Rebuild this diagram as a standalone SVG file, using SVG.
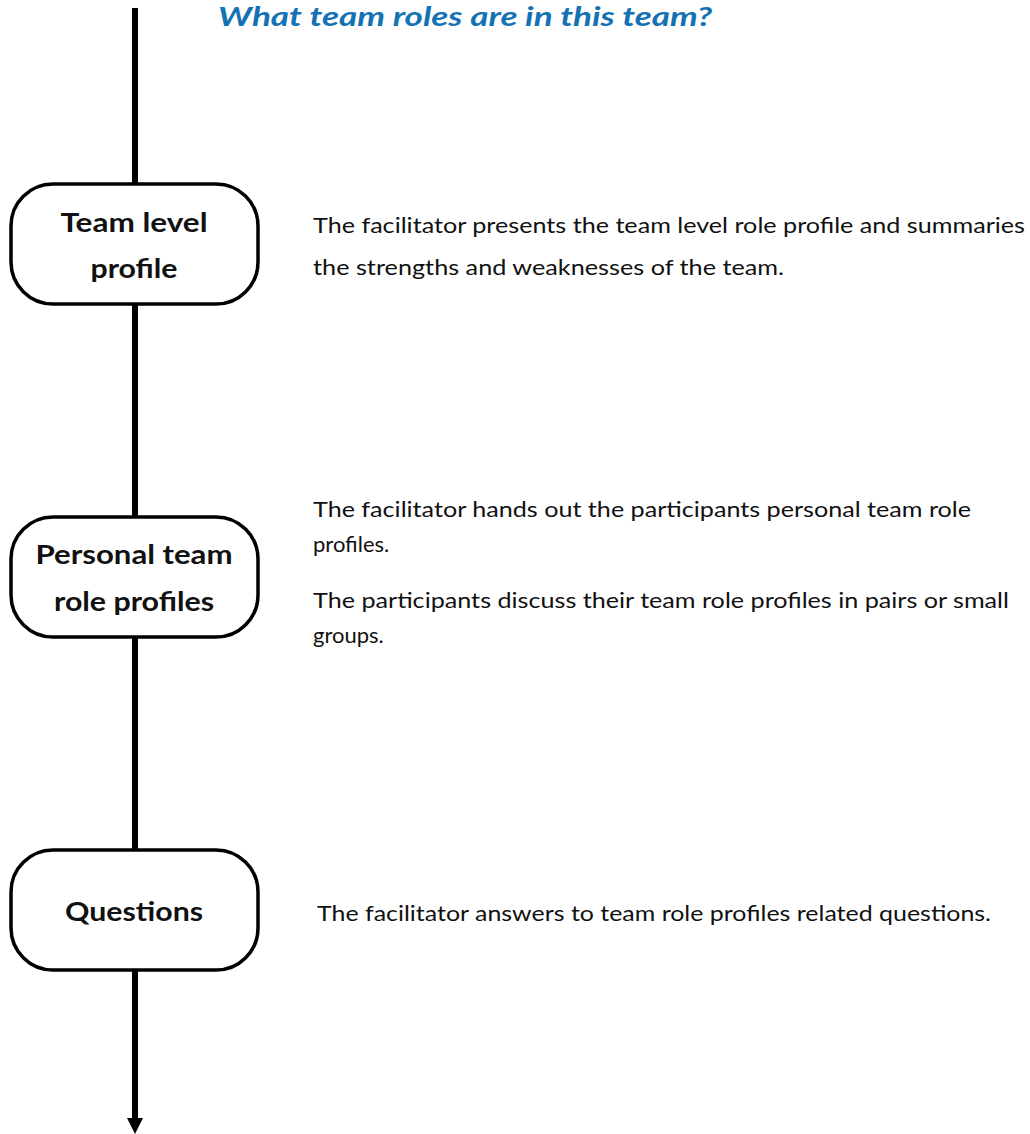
<svg xmlns="http://www.w3.org/2000/svg" width="1030" height="1134" viewBox="0 0 1030 1134">
<style>
.node rect{fill:#fff;stroke:#000;stroke-width:3.5}
.nt{font-family:Lato,"Liberation Sans",sans-serif;font-weight:bold;font-size:26px;fill:#111;text-anchor:middle}
.bt{font-family:Lato,"Liberation Sans",sans-serif;font-size:22px;fill:#111}
.title{font-family:Lato,"Liberation Sans",sans-serif;font-weight:bold;font-style:italic;font-size:27px;fill:#1472B4}
</style>
<defs>
<marker id="arr" markerUnits="userSpaceOnUse" markerWidth="18" markerHeight="18" refX="0" refY="0" viewBox="0 -9 18 18" orient="auto">
<path d="M0,-8 L16,0 L0,8 Z" fill="#000"/>
</marker>
</defs>
<g id="connectors">
<line x1="135" y1="8" x2="135" y2="1118" stroke="#000" stroke-width="6" marker-end="url(#arr)"/>
</g>
<text class="title" x="218" y="26" textLength="494" lengthAdjust="spacingAndGlyphs">What team roles are in this team?</text>
<g id="node-team-level">
<g class="node"><rect x="11" y="184" width="247" height="120" rx="42"/></g>
<text class="nt" x="134" y="232" textLength="147" lengthAdjust="spacingAndGlyphs">Team level</text>
<text class="nt" x="134" y="278" textLength="87" lengthAdjust="spacingAndGlyphs">profile</text>
<text class="bt" x="313" y="233" textLength="712" lengthAdjust="spacingAndGlyphs">The facilitator presents the team level role profile and summaries</text>
<text class="bt" x="313" y="275" textLength="471" lengthAdjust="spacingAndGlyphs">the strengths and weaknesses of the team.</text>
</g>
<g id="node-personal">
<g class="node"><rect x="11" y="517" width="247" height="120" rx="42"/></g>
<text class="nt" x="134" y="564" textLength="197" lengthAdjust="spacingAndGlyphs">Personal team</text>
<text class="nt" x="134" y="611" textLength="160" lengthAdjust="spacingAndGlyphs">role profiles</text>
<text class="bt" x="313" y="517" textLength="658" lengthAdjust="spacingAndGlyphs">The facilitator hands out the participants personal team role</text>
<text class="bt" x="313" y="552">profiles.</text>
<text class="bt" x="313" y="608" textLength="696" lengthAdjust="spacingAndGlyphs">The participants discuss their team role profiles in pairs or small</text>
<text class="bt" x="313" y="643">groups.</text>
</g>
<g id="node-questions">
<g class="node"><rect x="11" y="850" width="247" height="120" rx="42"/></g>
<text class="nt" x="134" y="921" textLength="138" lengthAdjust="spacingAndGlyphs">Questions</text>
<text class="bt" x="317" y="921" textLength="674" lengthAdjust="spacingAndGlyphs">The facilitator answers to team role profiles related questions.</text>
</g>
</svg>
